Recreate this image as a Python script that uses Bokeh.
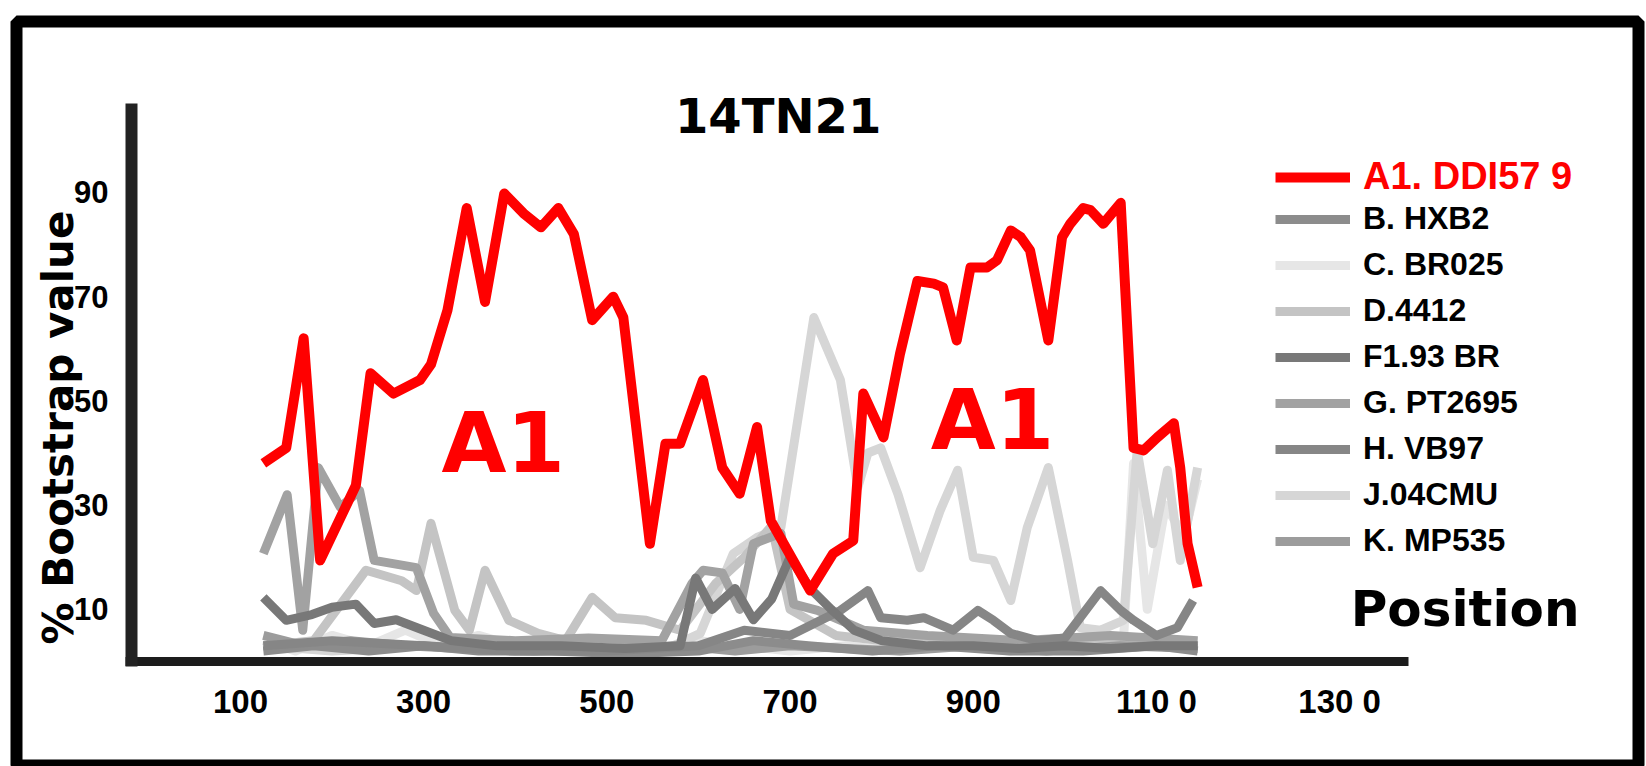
from bokeh.plotting import figure
from bokeh.models import Range1d, LinearAxis, FixedTicker, Label, Legend, LegendItem
from bokeh.embed import file_html
from bokeh.resources import INLINE

# ---------------- data ----------------
title_text = "14TN21"
x_ticks = [100, 300, 500, 700, 900, 1100, 1300]
x_tick_labels = ["100", "300", "500", "700", "900", "110 0", "130 0"]
y_ticks = [10, 30, 50, 70, 90]
y_tick_labels = ["10", "30", "50", "70", "90"]

names = ["A1. DDI57 9", "B. HXB2", "C. BR025", "D.4412", "F1.93 BR",
         "G. PT2695", "H. VB97", "J.04CMU", "K. MP535"]
colors = ["#ff0000", "#8c8c8c", "#e6e6e6", "#c4c4c4", "#787878",
          "#a2a2a2", "#868686", "#d6d6d6", "#9c9c9c"]

a1_pos = [125, 150, 169, 187, 226, 242, 267, 296, 308, 326, 347, 367, 388, 409, 428,
          447, 464, 484, 507, 518, 547, 564, 580, 605, 626, 645, 664, 679, 722, 747,
          769, 780, 802, 820, 839, 857, 867, 882, 897, 915, 926, 941, 952, 962, 982,
          997, 1006, 1020, 1028, 1042, 1061, 1075, 1086, 1101, 1119, 1126, 1134, 1145]
a1_val = [38, 41, 62, 19.4, 33.8, 55.3, 51.4, 54, 57, 67.4, 87, 69, 89.8, 86, 83.3,
          87, 82, 65.5, 70, 66, 22.6, 41.8, 41.8, 54, 37.2, 32.2, 45, 27, 13.6, 20.7,
          23.2, 51.4, 43, 59, 73, 72.5, 71.8, 61.6, 75.6, 75.6, 77, 82.7, 81.4, 78.9, 61.6,
          81.4, 84, 87, 86.6, 84, 88, 41, 40.5, 43, 45.7, 37.2, 22.6, 14.2]

b_pos = [125, 180, 240, 300, 360, 440, 520, 600, 660, 720, 790, 860, 940, 1020, 1100, 1145]
b_val = [2, 3, 2, 3, 2, 2, 1.5, 2, 4, 3, 2, 3, 2, 2, 3, 2]

c_pos = [125, 160, 200, 240, 280, 320, 360, 420, 480, 540, 600, 650, 700, 760, 820,
         880, 940, 1000, 1040, 1064, 1075, 1090, 1110, 1130, 1145]
c_val = [4, 2, 5, 3, 6, 3, 5, 2, 3, 2, 4, 3, 2, 3, 2,
         3, 2, 3, 4, 4, 38, 10, 30, 24, 35]

d_pos = [125, 180, 237, 276, 292, 308, 334, 350, 367, 393, 425, 455, 484, 509, 543,
         580, 619, 650, 680, 700, 750, 800, 900, 1000, 1100, 1145]
d_val = [3, 4, 17.5, 15.5, 13.6, 26.5, 9.8, 6, 17.5, 7.9, 5.4, 4, 12.3, 8.4, 7.9,
         6, 15, 20, 26, 10, 5, 4, 3, 3, 4, 3]

f1_pos = [125, 150, 178, 200, 226, 246, 270, 300, 330, 380, 450, 520, 580, 597, 615,
          640, 660, 680, 700, 722, 745, 770, 800, 850, 900, 950, 1000, 1050, 1100, 1145]
f1_val = [12.3, 7.9, 9, 10.4, 11, 7.3, 8, 6, 4, 3, 3, 2.5, 3, 16, 10,
          14, 8, 12, 20, 14, 10, 6, 4, 3, 3, 2.5, 3, 2.5, 3, 3]

g_pos = [125, 151, 168, 185, 209, 230, 246, 292, 311, 329, 400, 480, 560, 593, 605,
         626, 645, 660, 690, 704, 730, 780, 850, 950, 1050, 1145]
g_val = [20.7, 32, 6, 37.2, 29.6, 32.8, 19.4, 18, 9.2, 4.6, 4, 4.5, 4, 15, 17.5,
         17, 10, 22.6, 24.6, 11, 9.8, 6, 5, 4, 5, 4]

h_pos = [125, 200, 300, 400, 500, 600, 650, 700, 755, 785, 799, 828, 846, 878, 905,
         922, 941, 970, 1000, 1039, 1061, 1075, 1100, 1123, 1140]
h_val = [3, 4, 3, 2, 2, 3, 6, 5, 9.8, 13.6, 8.4, 7.9, 8.4, 6, 9.8,
         7.9, 5.4, 4, 4.5, 13.6, 9.8, 7.9, 5, 6.5, 11.7]

j_pos = [125, 200, 300, 400, 500, 560, 602, 638, 664, 690, 726, 755, 774, 785, 799,
         818, 842, 864, 883, 900, 922, 941, 959, 982, 1003, 1017, 1039, 1064, 1079,
         1096, 1112, 1126, 1145]
j_val = [3, 2, 3, 2, 3, 2, 5.4, 20.7, 23.8, 25.7, 66, 54, 33.4, 40, 41,
         32, 18, 29, 36.7, 20, 19.4, 11.7, 25.7, 37.2, 19.4, 6.5, 6, 7.9, 40.5,
         22.6, 36.7, 19.4, 37.2]

k_pos = [125, 170, 220, 280, 340, 420, 500, 580, 640, 700, 760, 820, 900, 980, 1060, 1145]
k_val = [5, 3, 4, 3, 2.5, 2, 2.5, 3, 2, 3, 2.5, 2, 3, 2, 3, 2.5]

series = {
    "A1": (a1_pos, a1_val), "B": (b_pos, b_val), "C": (c_pos, c_val),
    "D": (d_pos, d_val), "F1": (f1_pos, f1_val), "G": (g_pos, g_val),
    "H": (h_pos, h_val), "J": (j_pos, j_val), "K": (k_pos, k_val),
}
keys = ["A1", "B", "C", "D", "F1", "G", "H", "J", "K"]

# ---------------- figure ----------------
p = figure(width=1646, height=766,
           x_range=Range1d(-144.5, 1626.3), y_range=Range1d(-20.15, 122.8),
           x_axis_type=None, y_axis_type=None, toolbar_location=None,
           output_backend="svg", title=None,
           min_border_left=16, min_border_right=8, min_border_top=21, min_border_bottom=0,
           outline_line_color="black", outline_line_width=12,
           background_fill_color="white", border_fill_color="white")

xa = LinearAxis(fixed_location=0, bounds=(-26, 1375),
                ticker=FixedTicker(ticks=x_ticks),
                major_label_overrides=dict(zip(x_ticks, x_tick_labels)),
                axis_line_width=9, axis_line_color="#1c1c1c",
                major_tick_line_color=None, minor_tick_line_color=None,
                major_label_text_font="Liberation Sans", major_label_text_font_style="bold",
                major_label_text_font_size="33px", major_label_text_color="black",
                major_label_standoff=16)
p.add_layout(xa, "below")

ya = LinearAxis(fixed_location=-19, bounds=(-1, 107),
                ticker=FixedTicker(ticks=y_ticks),
                major_label_overrides=dict(zip(y_ticks, y_tick_labels)),
                axis_line_width=12, axis_line_color="#222222",
                major_tick_line_color=None, minor_tick_line_color=None,
                major_label_text_font="Liberation Sans", major_label_text_font_style="bold",
                major_label_text_font_size="31px", major_label_text_color="black",
                major_label_standoff=17)
p.add_layout(ya, "left")

renderers = {}
draw_order = ["C", "J", "D", "K", "G", "B", "H", "F1", "A1"]
for k in draw_order:
    i = keys.index(k)
    xs, ys = series[k]
    renderers[k] = p.line(xs, ys, line_color=colors[i],
                          line_width=10 if k == "A1" else 9, line_join="round")

leg1 = Legend(items=[LegendItem(label=names[0], renderers=[renderers["A1"]])],
              location=(1259, 568), glyph_width=75, glyph_height=20, label_height=20,
              label_standoff=13, spacing=0, padding=0, margin=0,
              border_line_alpha=0, background_fill_alpha=0,
              label_text_font="Liberation Sans", label_text_font_style="bold",
              label_text_font_size="38px", label_text_color="#ff0000")
p.add_layout(leg1)

leg2 = Legend(items=[LegendItem(label=names[i], renderers=[renderers[keys[i]]]) for i in range(1, 9)],
              location=(1259, 207), glyph_width=75, glyph_height=20, label_height=20,
              label_standoff=13, spacing=9, padding=0, margin=0,
              border_line_alpha=0, background_fill_alpha=0,
              label_text_font="Liberation Sans", label_text_font_style="bold",
              label_text_font_size="32px", label_text_color="black")
p.add_layout(leg2)

big = dict(text_font="DejaVu Sans", text_font_style="bold", text_align="center",
           text_baseline="middle")
p.add_layout(Label(x=687, y=104.6, text=title_text, text_font_size="48px",
                   text_color="black", **big))
p.add_layout(Label(x=-98.7, y=44.9, text="% Bootstrap value", angle=1.5708,
                   text_font_size="42px", text_color="black", **big))
p.add_layout(Label(x=1437, y=10, text="Position", text_font_size="50px",
                   text_color="black", **big))
p.add_layout(Label(x=387, y=42, text="A1", text_font_size="84px",
                   text_color="#ff0000", **big))
p.add_layout(Label(x=921, y=46.3, text="A1", text_font_size="84px",
                   text_color="#ff0000", **big))

open("out.html", "w").write(file_html(p, INLINE, title="14TN21"))
